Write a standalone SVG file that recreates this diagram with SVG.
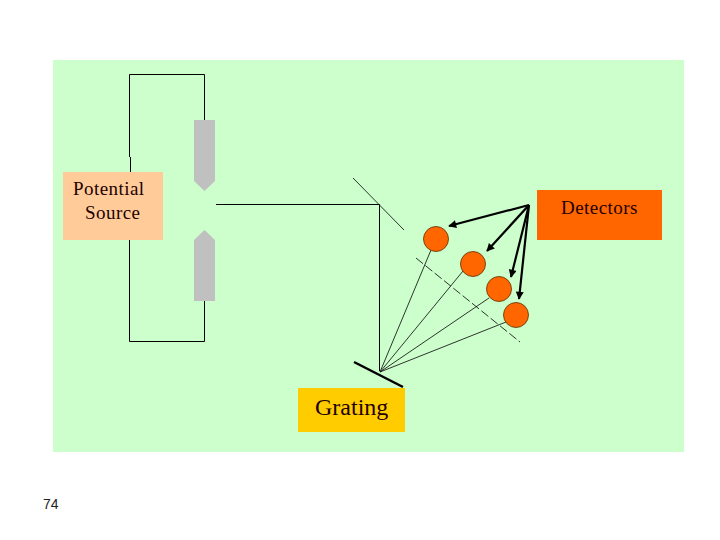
<svg xmlns="http://www.w3.org/2000/svg" width="720" height="540" viewBox="0 0 720 540">
<defs>
<marker id="arr" viewBox="0 0 10 10" refX="9" refY="5" markerWidth="9" markerHeight="8" markerUnits="userSpaceOnUse" orient="auto"><path d="M0 0L10 5L0 10z" fill="#000"/></marker>
</defs>
<style>
text{font-family:"Liberation Serif",serif;fill:#200}
.s{letter-spacing:.45px}
.w{fill:none;stroke:#000;stroke-width:1}
.t{fill:none;stroke:#111;stroke-width:.85}
.a{fill:none;stroke:#000;stroke-width:2.200;marker-end:url(#arr)}
.d{fill:#ff6600;stroke:#5a3000;stroke-width:.8}
.e{fill:#c0c0c0}
</style>
<rect width="720" height="540" fill="#fff"/>
<rect id="panel" x="53" y="60" width="631" height="392" fill="#ccffcc"/>
<g id="connectors">
<path class="w" d="M129.500 157V74.500H204.500V120M130.500 157V172M129.500 238V341.500H204.500V300"/>
<path class="w" d="M216 204.500H379.500V371"/>
<path class="t" d="M353 178L404 230"/>
<path class="t" stroke-dasharray="9 3" d="M416 258L520 342"/>
<path class="t" d="M380 372L431 250M380 372L463 271M380 372L489 298M380 372L506 322"/>
<path fill="none" stroke="#000" stroke-width="2.500" d="M354 362L403 387"/>
<path class="a" d="M529 205L449 226"/>
<path class="a" d="M529 205L487 251"/>
<path class="a" d="M529 205L511 277"/>
<path class="a" d="M529 205L519 299"/>
</g>
<g id="electrode-top"><path class="e" d="M194 120H215V181L204.500 191L194 181z"/></g>
<g id="electrode-bottom"><path class="e" d="M194 301H215V240L204.500 230L194 240z"/></g>
<g id="potential-source"><rect x="63" y="172" width="100" height="68" fill="#ffcc99"/>
<text class="s" x="73" y="195" font-size="19">Potential</text><text class="s" x="85" y="219" font-size="19">Source</text></g>
<g id="detectors"><rect x="537" y="190" width="125" height="50" fill="#ff6600"/>
<text class="s" x="561" y="214" font-size="19">Detectors</text></g>
<g id="grating"><rect x="298" y="388" width="107" height="44" fill="#ffcc00"/>
<text x="315" y="415" font-size="24">Grating</text></g>
<g id="detector-1"><circle class="d" cx="436" cy="239" r="12.500"/></g>
<g id="detector-2"><circle class="d" cx="473" cy="264" r="12.500"/></g>
<g id="detector-3"><circle class="d" cx="499" cy="289" r="12.500"/></g>
<g id="detector-4"><circle class="d" cx="516" cy="315" r="12.500"/></g>
<text id="page" x="43" y="509" font-size="14" style="font-family:'Liberation Sans',sans-serif;fill:#222">74</text>
</svg>
